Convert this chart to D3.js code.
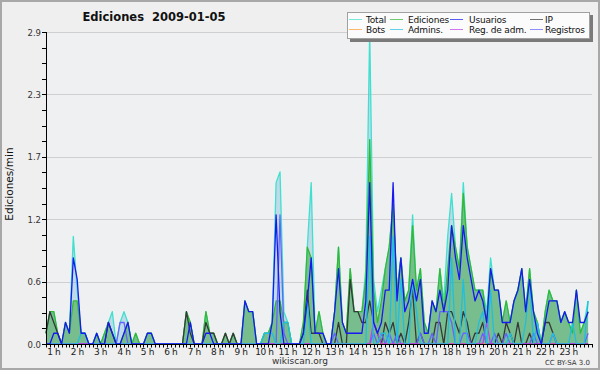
<!DOCTYPE html>
<html>
<head>
<meta charset="utf-8">
<script src="https://cdn.jsdelivr.net/npm/d3@7"></script>
<style>
  body { margin: 0; background: #fff; }
  svg { display: block; }
  text { font-family: "DejaVu Sans", sans-serif; }
</style>
</head>
<body>
<div id="chart"></div>
<script>
// Ediciones por minuto, tramos de 10 min desde las 0:40 (140 tramos)
const startHour = 40 / 60;
const binHours = 1 / 6;
const hourLabels = d3.range(1, 24);

const total = [
  0.1,0.3,0.3,0.1,0,0.2,0.1,1.0,0.5,0.1,
  0.1,0,0,0.1,0,0.1,0.2,0.3,0,0.2,
  0.3,0.2,0,0.1,0,0,0.1,0.1,0,0,
  0,0,0,0,0,0,0.3,0.2,0,0,
  0,0.3,0.1,0.1,0,0,0.1,0,0.1,0,
  0,0.4,0.3,0.3,0,0,0.1,0.1,0.2,1.5,
  1.6,0.3,0.2,0,0,0,0.2,0.9,1.5,0.1,
  0.3,0.1,0,0,0.3,0.9,0.2,0.1,0.7,0.3,
  0.3,0.3,0.7,2.9,0.6,0.3,0.5,0.7,0.9,1.3,
  0.5,0.8,0.4,0.5,1.2,0.5,0.7,0.2,0.1,0.4,
  0.3,0.7,0.4,1.0,1.4,0.9,0.7,1.5,0.9,0.7,
  0.5,0.5,0.5,0.3,0.8,0.5,0.5,0.2,0.4,0.2,
  0.4,0.5,0.7,0.3,0.7,0.3,0.2,0,0.3,0.5,
  0.4,0.4,0.2,0.3,0.2,0.1,0.5,0.1,0.2,0.4
];
const ediciones = [
  0.1,0.3,0.3,0.1,0,0.2,0.1,0.4,0.4,0.1,
  0.1,0,0,0.1,0,0.1,0.2,0.1,0,0,
  0.1,0.2,0,0.1,0,0,0.1,0.1,0,0,
  0,0,0,0,0,0,0.3,0.2,0,0,
  0,0.3,0.1,0.1,0,0,0.1,0,0.1,0,
  0,0.4,0.3,0.3,0,0,0.1,0.1,0.2,0.4,
  0.4,0.2,0.2,0,0,0,0.2,0.9,0.8,0.1,
  0.3,0.1,0,0,0.3,0.9,0.2,0.1,0.7,0.3,
  0.3,0.3,0.6,1.9,0.5,0.2,0.4,0.7,0.9,1.3,
  0.5,0.8,0.4,0.5,1.1,0.5,0.7,0.2,0.1,0.4,
  0.3,0.7,0.3,0.7,1.1,0.9,0.7,1.4,0.9,0.7,
  0.5,0.5,0.5,0.2,0.7,0.5,0.5,0.2,0.4,0.2,
  0.4,0.5,0.7,0.3,0.7,0.3,0.2,0,0.3,0.5,
  0.4,0.4,0.2,0.3,0.2,0.1,0.5,0.1,0.2,0.3
];
const usuarios = [
  0,0,0.1,0.1,0,0.2,0.1,0.8,0.6,0.1,
  0.1,0,0,0.1,0,0,0.2,0.1,0,0,
  0.1,0.2,0,0,0,0,0.1,0.1,0,0,
  0,0,0,0,0,0,0,0.2,0,0,
  0,0.1,0.1,0,0,0,0,0,0,0,
  0,0.4,0.3,0.3,0,0,0,0,0.2,1.2,
  0.3,0,0,0,0,0,0.1,0.4,0.8,0.1,
  0.1,0.1,0,0,0.3,0.7,0.2,0.1,0.1,0.1,
  0.1,0.1,0.4,1.5,0.2,0.1,0.2,0.5,0.5,1.5,
  0.4,0.8,0.3,0.4,0.6,0.4,0.6,0.1,0.1,0.4,
  0.3,0.5,0.3,0.5,1.1,0.8,0.6,1.1,0.8,0.6,
  0.4,0.5,0.4,0.2,0.7,0.5,0.5,0.2,0.2,0.2,
  0.4,0.5,0.7,0.3,0.6,0.3,0.1,0,0.2,0.4,
  0.4,0.4,0.2,0.3,0.2,0.2,0.5,0.2,0.2,0.3
];
const ip = [
  0.1,0.3,0.2,0.1,0,0,0,0,0,0,
  0,0,0,0,0,0,0.2,0.1,0,0,
  0,0,0,0,0,0,0,0,0,0,
  0,0,0,0,0,0,0.3,0.1,0,0,
  0,0.2,0.1,0.1,0,0,0.1,0,0.1,0,
  0,0,0,0,0,0,0,0,0,0,
  0,0,0,0,0,0,0.1,0.5,0.1,0.1,
  0.1,0,0,0,0,0.2,0,0,0.6,0.3,
  0.3,0.2,0.2,0.4,0.2,0.1,0,0.2,0.1,0.2,
  0,0.1,0,0.2,0.5,0,0.1,0,0,0,
  0.2,0.2,0,0.3,0.3,0.2,0.1,0.3,0.2,0,
  0.1,0.1,0.2,0,0,0,0.1,0,0.2,0.1,
  0,0.2,0,0,0.1,0,0,0,0.2,0.2,
  0.1,0,0,0,0,0,0,0,0,0
];
const bots = [
  0,0,0,0,0,0,0,0,0,0, 0,0,0,0,0,0,0,0,0,0,
  0,0,0,0,0,0,0,0,0,0, 0,0,0,0,0,0,0,0,0,0,
  0,0,0,0,0,0,0,0,0,0, 0,0,0,0,0,0,0,0,0,0,
  0,0,0,0,0,0,0,0,0,0, 0,0,0,0,0,0,0,0,0,0,
  0,0,0,0,0,0,0,0,0,0, 0,0,0,0,0,0,0,0,0,0,
  0,0,0,0,0,0,0,0,0,0, 0,0,0,0,0,0,0,0,0,0,
  0,0,0,0,0,0,0,0,0,0, 0,0,0,0,0,0,0,0,0,0
];
const admins = [
  0,0,0,0,0,0,0,0,0,0.1,
  0.1,0,0,0,0,0,0,0,0,0,
  0,0,0,0,0,0,0,0,0,0,
  0,0,0,0,0,0,0,0,0,0,
  0,0,0,0,0,0,0,0,0,0,
  0,0,0,0,0,0,0.1,0.1,0.1,0,
  0,0.2,0.2,0,0,0,0,0.4,0,0,
  0,0,0,0,0,0,0,0,0,0,
  0,0,0,1.0,0,0,0.1,0.1,0,1.0,
  0,0.6,0,0,0.6,0.3,0,0,0,0,
  0,0,0,0,0.8,0,0,0.6,0,0,
  0,0.2,0.3,0,0.5,0,0,0,0,0.1,
  0,0,0,0.2,0.6,0,0.2,0,0,0,
  0.1,0,0,0,0,0.2,0,0,0,0.4
];
const regAdm = [
  0,0,0,0,0,0,0,0,0,0, 0,0,0,0,0,0,0,0,0,0,
  0,0,0,0,0,0,0,0,0,0, 0,0,0,0,0,0,0,0,0,0,
  0,0,0,0,0,0,0,0,0,0, 0,0,0,0,0,0,0,0,0,0,
  0,0,0,0,0,0,0,0,0,0, 0,0,0,0,0,0,0,0,0,0,
  0,0,0,0,0.2,0.1,0,0,0,0, 0,0,0,0,0,0,0,0,0,0,
  0,0,0,0,0,0,0,0,0,0, 0,0,0,0.2,0,0,0,0,0,0,
  0,0,0,0,0,0,0,0,0,0, 0,0,0,0,0,0,0,0,0,0
];
const registros = [
  0,0,0,0,0,0,0,0,0,0,
  0,0,0,0,0,0,0,0,0,0.2,
  0.2,0,0,0,0,0,0,0,0,0,
  0,0,0,0,0,0,0,0,0,0,
  0,0,0,0,0,0,0,0,0,0,
  0,0,0,0,0,0,0,0,0,0,
  1.2,0.1,0,0,0,0,0,0,0,0,
  0,0,0,0,0.1,0,0,0,0,0,
  0,0,0,0,0.1,0,0.1,0,0.1,0,
  0.1,0,0,0,0,0,0.1,0,0,0.1,
  0,0.3,0.3,0.3,0.2,0,0,0.1,0.1,0,
  0,0,0.1,0,0,0.1,0,0,0.1,0,
  0,0,0,0,0,0.1,0,0,0,0,
  0.1,0,0,0,0,0,0,0,0,0.1
];

const series = [
  { name: "Total",        values: total,     color: "#3fe0cf" },
  { name: "Ediciones",    values: ediciones, color: "#34b834" },
  { name: "Usuarios",     values: usuarios,  color: "#1818f0" },
  { name: "IP",           values: ip,        color: "#383838" },
  { name: "Bots",         values: bots,      color: "#ff9a30" },
  { name: "Admins.",      values: admins,    color: "#20bfe0" },
  { name: "Reg. de adm.", values: regAdm,    color: "#c040e8" },
  { name: "Registros",    values: registros, color: "#6464ff" }
];

const W = 600, H = 370;
const plot = { left: 46, right: 592, top: 32, bottom: 344 };
const yMax = 2.9;

const svg = d3.select("#chart").append("svg").attr("width", W).attr("height", H);

svg.append("rect").attr("x", 1).attr("y", 1).attr("width", W - 2).attr("height", H - 2)
  .attr("fill", "#efefef").attr("stroke", "#a8a8a8").attr("stroke-width", 2);
svg.append("rect").attr("x", plot.left).attr("y", plot.top)
  .attr("width", plot.right - plot.left).attr("height", plot.bottom - plot.top)
  .attr("fill", "#eef0f2");

const x = d3.scaleLinear().domain([startHour, 24]).range([plot.left, plot.right]);
const y = d3.scaleLinear().domain([0, yMax]).range([plot.bottom, plot.top]);
const tAt = (i) => startHour + i * binHours;

// rejilla
const yStep = yMax / 20;
const yTicks = d3.range(0, 21).map((k) => k * yStep);
const yMajor = yTicks.filter((d, k) => k % 4 === 0);
svg.append("g").selectAll("line").data(yMajor.slice(1)).join("line")
  .attr("x1", plot.left).attr("x2", plot.right)
  .attr("y1", (d) => Math.round(y(d)) + 0.5).attr("y2", (d) => Math.round(y(d)) + 0.5)
  .attr("stroke", "#cfcfcf").attr("stroke-width", 1);

// areas
const area = (vals) => d3.area()
  .x((d, i) => x(tAt(i))).y0(plot.bottom).y1((d) => y(d))(vals);
svg.append("path").attr("d", area(total)).attr("fill", "rgb(85,170,215)").attr("fill-opacity", 0.3);
svg.append("path").attr("d", area(ediciones)).attr("fill", "rgb(45,160,50)").attr("fill-opacity", 0.5);

// lineas
const line = d3.line().x((d, i) => x(tAt(i))).y((d) => y(d));
const drawOrder = ["Bots", "Total", "Ediciones", "IP", "Registros", "Reg. de adm.", "Admins.", "Usuarios"];
drawOrder.forEach((n) => {
  const s = series.find((d) => d.name === n);
  svg.append("path").attr("d", line(s.values)).attr("fill", "none")
    .attr("stroke", s.color).attr("stroke-width", 1.3).attr("stroke-linejoin", "round");
});

// eje y
const gy = svg.append("g").attr("transform", `translate(${plot.left},0)`);
gy.append("line").attr("x1", 0.5).attr("x2", 0.5).attr("y1", plot.top).attr("y2", plot.bottom + 1).attr("stroke", "#000");
gy.selectAll("line.t").data(yTicks).join("line").attr("class", "t")
  .attr("x1", -4).attr("x2", 0)
  .attr("y1", (d) => Math.round(y(d)) + 0.5).attr("y2", (d) => Math.round(y(d)) + 0.5)
  .attr("stroke", "#000");
gy.selectAll("text").data(yMajor).join("text")
  .attr("x", -5).attr("y", (d) => y(d) + 3.5).attr("text-anchor", "end")
  .attr("font-size", 8.5).attr("fill", "#333").text(d3.format(".1f"));

// eje x
const gx = svg.append("g").attr("transform", `translate(0,${plot.bottom})`);
gx.append("line").attr("x1", plot.left).attr("x2", plot.right + 1).attr("y1", 0.5).attr("y2", 0.5).attr("stroke", "#000");
gx.selectAll("line.t").data(d3.range(0, 141)).join("line").attr("class", "t")
  .attr("x1", (i) => Math.round(x(tAt(i))) + 0.5).attr("x2", (i) => Math.round(x(tAt(i))) + 0.5)
  .attr("y1", 0).attr("y2", 3.5).attr("stroke", "#000");
gx.selectAll("text").data(hourLabels).join("text")
  .attr("x", (h) => x(h)).attr("y", 11).attr("text-anchor", "middle")
  .attr("font-size", 9).attr("letter-spacing", -0.4).attr("fill", "#222").text((h) => h + " h");

// titulo y etiquetas
svg.append("text").attr("x", 154).attr("y", 21).attr("text-anchor", "middle")
  .attr("font-size", 11.5).attr("font-weight", "bold").attr("fill", "#111")
  .style("white-space", "pre").text("Ediciones  2009-01-05");
svg.append("text").attr("transform", "translate(13,184) rotate(-90)").attr("text-anchor", "middle")
  .attr("font-size", 10.5).attr("fill", "#111").text("Ediciones/min");
svg.append("text").attr("x", 300).attr("y", 364).attr("text-anchor", "middle")
  .attr("font-size", 9).attr("fill", "#333").text("wikiscan.org");
svg.append("text").attr("x", 590).attr("y", 365).attr("text-anchor", "end")
  .attr("font-size", 7).attr("fill", "#333").text("CC BY-SA 3.0");

// leyenda
const lg = svg.append("g");
lg.append("rect").attr("x", 350).attr("y", 15).attr("width", 243).attr("height", 27).attr("fill", "#7a7a7a");
lg.append("rect").attr("x", 347.5).attr("y", 12.5).attr("width", 242).attr("height", 26)
  .attr("fill", "#fbfbfb").attr("stroke", "#a0a0a0");
const colLine = [349, 390, 450, 530];
const colText = [366, 408, 469, 545];
series.forEach((s, k) => {
  const c = k % 4, r = Math.floor(k / 4);
  const yy = 19.5 + r * 10;
  lg.append("line").attr("x1", colLine[c]).attr("x2", colLine[c] + 13)
    .attr("y1", yy).attr("y2", yy).attr("stroke", s.color).attr("stroke-width", 1).attr("opacity", 0.7);
  lg.append("text").attr("x", colText[c]).attr("y", yy + 3.5).attr("font-size", 9)
    .attr("letter-spacing", -0.2).attr("fill", "#111").text(s.name);
});
</script>
</body>
</html>
